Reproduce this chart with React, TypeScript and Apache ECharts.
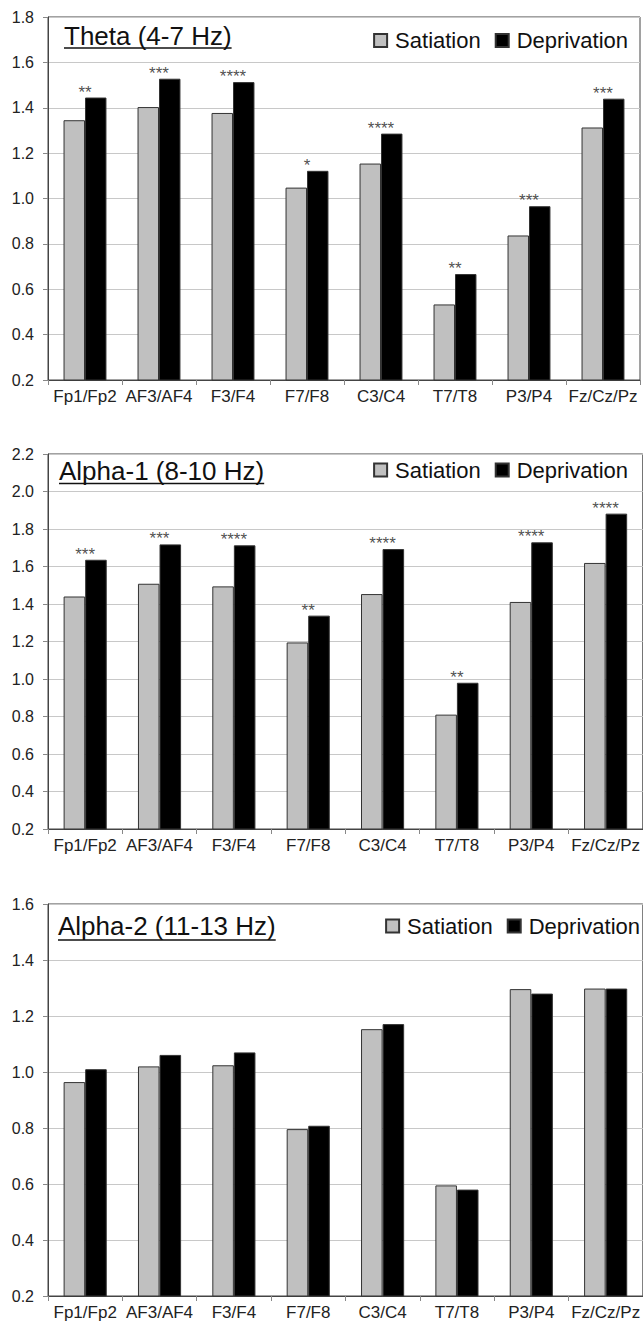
import React, { useEffect, useRef } from "react";
import * as echarts from "echarts";

const categories = ["Fp1/Fp2", "AF3/AF4", "F3/F4", "F7/F8", "C3/C4", "T7/T8", "P3/P4", "Fz/Cz/Pz"];
const seriesNames = ["Satiation", "Deprivation"];

const thetaSatiation = [1.345, 1.403, 1.377, 1.048, 1.154, 0.533, 0.837, 1.313];
const thetaDeprivation = [1.445, 1.528, 1.513, 1.122, 1.286, 0.667, 0.966, 1.44];
const thetaStars = ["**", "***", "****", "*", "****", "**", "***", "***"];

const alpha1Satiation = [1.44, 1.508, 1.494, 1.195, 1.453, 0.81, 1.411, 1.619];
const alpha1Deprivation = [1.636, 1.718, 1.713, 1.338, 1.693, 0.98, 1.729, 1.882];
const alpha1Stars = ["***", "***", "****", "**", "****", "**", "****", "****"];

const alpha2Satiation = [0.964, 1.02, 1.024, 0.796, 1.153, 0.595, 1.296, 1.298];
const alpha2Deprivation = [1.01, 1.061, 1.07, 0.808, 1.171, 0.58, 1.28, 1.298];
const alpha2Stars = ["", "", "", "", "", "", "", ""];

const panelTitles = ["Theta (4-7 Hz)", "Alpha-1 (8-10 Hz)", "Alpha-2 (11-13 Hz)"];
const yMins = [0.2, 0.2, 0.2];
const yMaxs = [1.8, 2.2, 1.6];

const FONT = '"Liberation Sans", Arial, Helvetica, sans-serif';

export default function App() {
  const ref = useRef<HTMLDivElement>(null);

  useEffect(() => {
    if (!ref.current) return;
    const chart = echarts.init(ref.current, undefined, { renderer: "svg" });

    const panels = [
      { sat: thetaSatiation, dep: thetaDeprivation, stars: thetaStars },
      { sat: alpha1Satiation, dep: alpha1Deprivation, stars: alpha1Stars },
      { sat: alpha2Satiation, dep: alpha2Deprivation, stars: alpha2Stars },
    ];

    const grids = [
      { left: 48, top: 17, width: 592, height: 363 },
      { left: 48, top: 454, width: 596, height: 375 },
      { left: 48, top: 904, width: 597, height: 392 },
    ];
    const titlePos = [
      { left: 64, top: 23, underline: 48 },
      { left: 59, top: 457.5, underline: 483.5 },
      { left: 58, top: 913, underline: 940 },
    ];
    const legendPos = [
      { right: 15, top: 29.5 },
      { right: 15, top: 459 },
      { right: 3, top: 915 },
    ];

    const canvas = document.createElement("canvas");
    const ctx = canvas.getContext("2d")!;
    ctx.font = "26px " + FONT;

    const series: any[] = [];
    panels.forEach((p, i) => {
      series.push({
        name: seriesNames[0],
        type: "bar",
        xAxisIndex: i,
        yAxisIndex: i,
        data: p.sat,
        barGap: "0%",
        barCategoryGap: "42%",
        itemStyle: { color: "#c0c0c0", borderColor: "#333", borderWidth: 1 },
        silent: true,
      });
      series.push({
        name: seriesNames[1],
        type: "bar",
        xAxisIndex: i,
        yAxisIndex: i,
        data: p.dep,
        barGap: "0%",
        barCategoryGap: "42%",
        itemStyle: { color: "#000000", borderColor: "#333", borderWidth: 1 },
        silent: true,
      });
      series.push({
        name: "stars" + i,
        type: "scatter",
        xAxisIndex: i,
        yAxisIndex: i,
        data: p.dep,
        symbolSize: 0,
        silent: true,
        label: {
          show: true,
          position: "top",
          distance: 0,
          offset: [0, 3],
          formatter: (prm: any) => p.stars[prm.dataIndex],
          fontSize: 17,
          color: "#222",
          fontFamily: FONT,
        },
      });
    });

    const option: any = {
      animation: false,
      backgroundColor: "#ffffff",
      title: panelTitles.map((t, i) => ({
        text: t,
        left: titlePos[i].left,
        top: titlePos[i].top,
        padding: 0,
        textStyle: { fontFamily: FONT, fontSize: 26, fontWeight: "normal", color: "#111" },
      })),
      legend: legendPos.map((l) => ({
        data: seriesNames,
        right: l.right,
        top: l.top,
        padding: 0,
        icon: "rect",
        itemWidth: 13,
        itemHeight: 13,
        itemGap: 14,
        selectedMode: false,
        textStyle: { fontFamily: FONT, fontSize: 22, color: "#111", lineHeight: 22, padding: [0, 0, 0, 3] },
      })),
      grid: grids.map((g) => ({
        ...g,
        show: true,
        borderColor: "#444",
        borderWidth: 1,
        containLabel: false,
      })),
      xAxis: grids.map((_, i) => ({
        type: "category",
        gridIndex: i,
        data: categories,
        axisLine: { show: true, lineStyle: { color: "#444", width: 1 } },
        axisTick: { show: true, length: 5, lineStyle: { color: "#888" } },
        axisLabel: { fontFamily: FONT, fontSize: 17, color: "#222", margin: 8, interval: 0 },
        splitLine: { show: false },
      })),
      yAxis: grids.map((_, i) => ({
        type: "value",
        gridIndex: i,
        min: yMins[i],
        max: yMaxs[i],
        interval: 0.2,
        axisLine: { show: true, lineStyle: { color: "#444", width: 1 } },
        axisTick: { show: true, length: 5, lineStyle: { color: "#888" } },
        axisLabel: {
          fontFamily: FONT,
          fontSize: 16,
          color: "#222",
          margin: 14,
          formatter: (v: number) => v.toFixed(1),
        },
        splitLine: { show: true, lineStyle: { color: "#c8c8c8", width: 1.2 } },
      })),
      graphic: panelTitles.map((t, i) => {
        const w = ctx.measureText(t).width;
        return {
          type: "line",
          silent: true,
          shape: { x1: titlePos[i].left, y1: titlePos[i].underline, x2: titlePos[i].left + w, y2: titlePos[i].underline },
          style: { stroke: "#111", lineWidth: 1.5 },
          z: 100,
        };
      }),
      series,
    };

    chart.setOption(option);
    return () => chart.dispose();
  }, []);

  return (
    <div
      ref={ref}
      style={{ position: "absolute", left: 0, top: 0, width: 643, height: 1326, background: "#fff" }}
    />
  );
}
